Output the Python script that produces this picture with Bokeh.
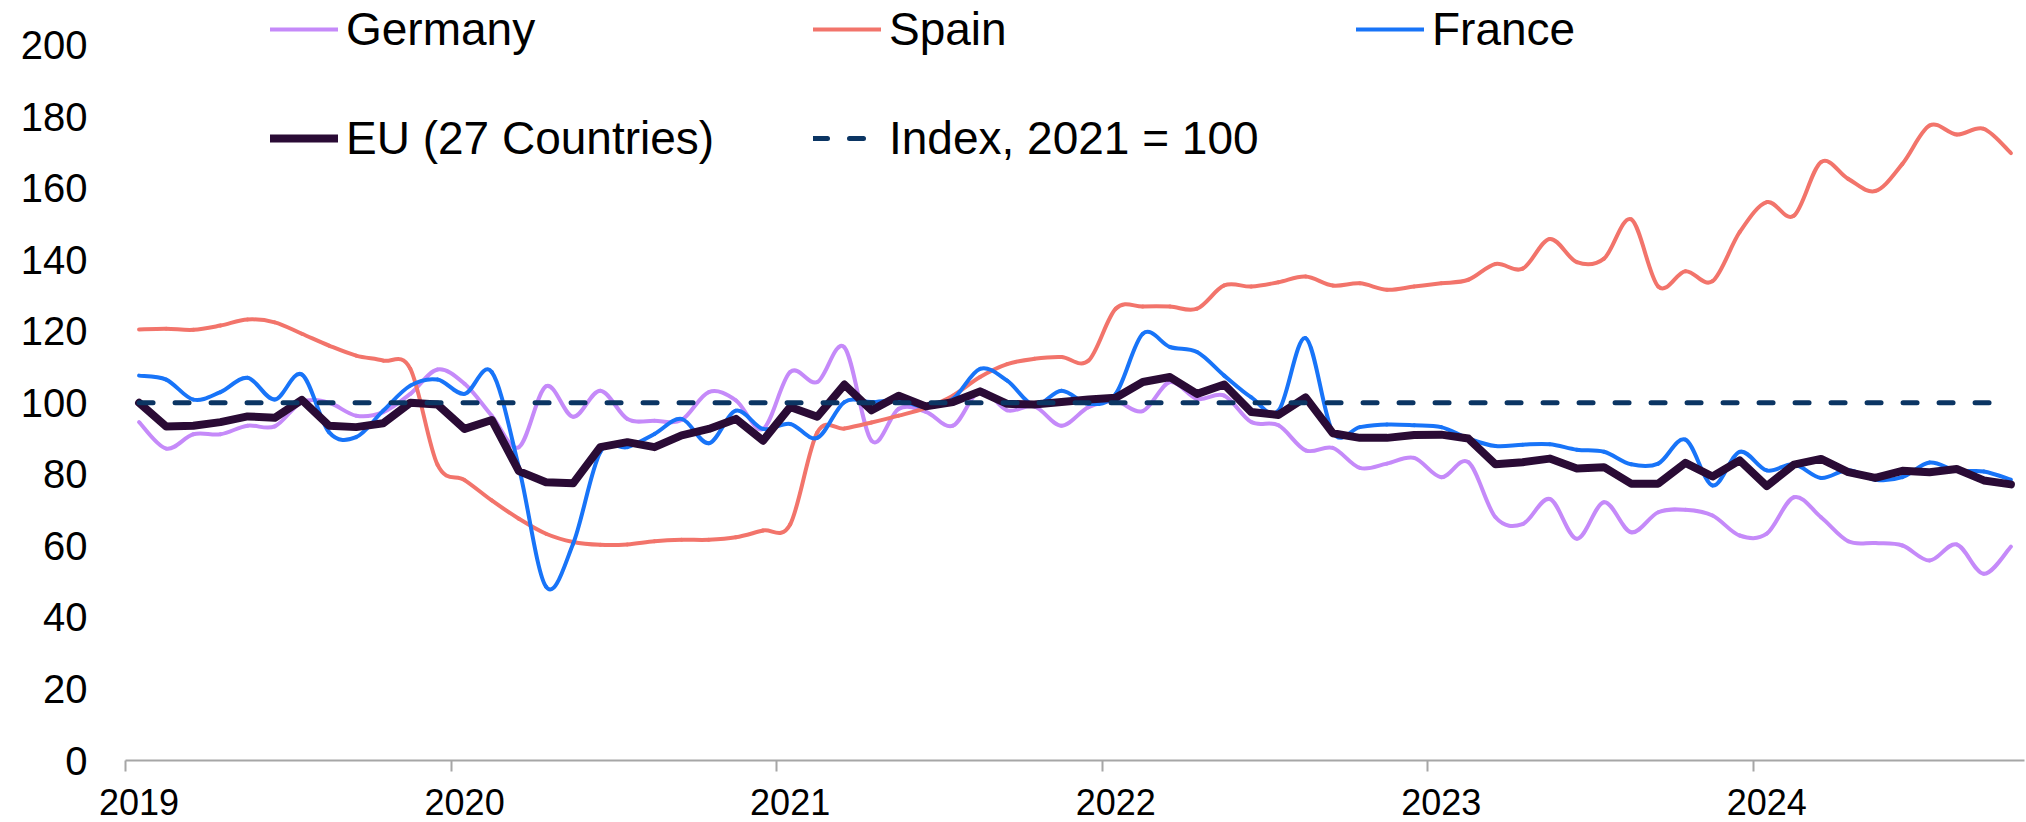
from bokeh.plotting import figure
from bokeh.models import Range1d, FixedTicker, Legend, LegendItem, ColumnDataSource
from bokeh.embed import file_html
from bokeh.resources import INLINE

# ---------------- data ----------------
months = [f"{y}-{m:02d}" for y in range(2019, 2025) for m in range(1, 13)][:70]

germany = [94.6, 87.2, 91.2, 91.2, 93.6, 93.4, 100.2, 100.0, 96.4, 97.4, 102.5, 109.3,
           105.3, 96.4, 87.6, 104.6, 96.1, 103.4, 95.5, 95.0, 95.2, 103.0, 100.7, 92.7,
           108.6, 105.8, 115.5, 89.4, 98.3, 97.5, 93.6, 103.4, 97.9, 99.0, 93.6, 98.8,
           100.4, 97.7, 105.8, 101.1, 102.0, 94.6, 93.7, 86.7, 87.4, 81.8, 83.0, 84.6,
           79.2, 83.4, 68.0, 66.1, 73.1, 62.0, 72.2, 63.8, 69.4, 70.1, 68.5, 62.9,
           63.4, 73.6, 68.0, 61.3, 60.8, 60.1, 55.9, 60.4, 52.2, 59.8]

spain = [120.5, 120.7, 120.4, 121.6, 123.3, 122.5, 119.3, 116.0, 113.2, 111.8, 109.5, 82.7,
         78.4, 72.7, 67.6, 63.4, 61.1, 60.3, 60.4, 61.3, 61.7, 61.7, 62.4, 64.3,
         66.0, 91.7, 92.8, 94.5, 96.4, 98.6, 102.0, 107.2, 110.8, 112.3, 112.8, 111.8,
         126.3, 126.9, 126.9, 126.3, 132.8, 132.5, 133.7, 135.3, 132.8, 133.4, 131.6, 132.5,
         133.4, 134.4, 138.8, 137.5, 145.8, 139.3, 140.3, 151.3, 132.5, 136.8, 134.0, 147.7,
         156.1, 152.3, 167.3, 162.6, 159.2, 166.8, 177.5, 175.0, 176.6, 169.8]

france = [107.6, 106.5, 100.9, 103.0, 107.0, 100.9, 107.9, 91.8, 90.4, 97.8, 104.8, 106.5,
          102.5, 108.6, 82.0, 48.6, 60.6, 86.2, 87.6, 91.3, 95.5, 88.7, 97.8, 92.7,
          94.1, 90.2, 100.2, 100.2, 100.7, 98.8, 101.1, 109.5, 106.2, 99.3, 103.4, 99.7,
          102.5, 119.3, 115.6, 114.2, 107.6, 101.5, 97.8, 118.1, 91.8, 93.2, 93.9, 93.7,
          93.2, 90.0, 87.9, 88.3, 88.4, 86.9, 86.3, 82.8, 83.0, 89.7, 76.9, 86.3,
          81.1, 82.8, 79.0, 81.2, 78.5, 79.2, 83.3, 81.0, 80.8, 78.5]

eu27 = [100.0, 93.4, 93.6, 94.6, 96.2, 95.8, 100.8, 93.6, 93.2, 94.3, 100.0, 99.5,
        92.7, 95.2, 80.9, 77.8, 77.5, 87.6, 89.0, 87.6, 90.9, 92.7, 95.5, 89.4,
        98.8, 96.1, 105.1, 97.9, 102.0, 99.0, 100.2, 103.2, 99.7, 99.5, 100.2, 100.9,
        101.4, 105.8, 107.2, 102.5, 105.1, 97.4, 96.6, 101.5, 91.5, 90.2, 90.2, 91.0,
        91.1, 90.0, 82.8, 83.4, 84.4, 81.6, 82.0, 77.4, 77.4, 83.2, 79.4, 83.9,
        76.7, 82.7, 84.3, 80.6, 79.0, 81.0, 80.6, 81.5, 78.3, 77.2]

index_level = [100.0] * len(months)

year_labels = ["2019", "2020", "2021", "2022", "2023", "2024"]
y_ticks = [0, 20, 40, 60, 80, 100, 120, 140, 160, 180, 200]

# ---------------- styles ----------------
C_GER = "#C58AF9"
C_ESP = "#F2746B"
C_FRA = "#1874F8"
C_EU = "#2A0B35"
C_IDX = "#0B3563"
C_AXIS = "#A6A6A6"
FONT = "Liberation Sans"

# month centres (each point sits in the middle of its month)
x = [months.index(m) + 0.5 for m in months]


def smooth_source(xs, ys):
    """Bezier control points (Catmull-Rom style, like a spreadsheet 'smoothed line')."""
    n = len(xs)
    d = dict(x0=[], y0=[], x1=[], y1=[], cx0=[], cy0=[], cx1=[], cy1=[])
    for i in range(n - 1):
        a = max(i - 1, 0)
        b = min(i + 2, n - 1)
        d["x0"].append(xs[i]); d["y0"].append(ys[i])
        d["x1"].append(xs[i + 1]); d["y1"].append(ys[i + 1])
        d["cx0"].append(xs[i] + (xs[i + 1] - xs[a]) / 6.0)
        d["cy0"].append(ys[i] + (ys[i + 1] - ys[a]) / 6.0)
        d["cx1"].append(xs[i + 1] - (xs[b] - xs[i]) / 6.0)
        d["cy1"].append(ys[i + 1] - (ys[b] - ys[i]) / 6.0)
    return ColumnDataSource(d)


FRAME_H = 760
PX_PER_UNIT = 3.577

p = figure(width=2026, height=822, output_backend="svg", toolbar_location=None,
           x_range=Range1d(0, len(months)), y_range=Range1d(0, FRAME_H / PX_PER_UNIT),
           min_border_left=125, min_border_right=2, min_border_top=0, min_border_bottom=62)
p.outline_line_color = None
p.grid.visible = False
p.background_fill_color = "white"
p.border_fill_color = "white"

# y axis
p.yaxis.ticker = FixedTicker(ticks=y_ticks)
p.yaxis.axis_line_color = None
p.yaxis.major_tick_line_color = None
p.yaxis.minor_tick_line_color = None
p.yaxis.major_tick_out = 0
p.yaxis.major_tick_in = 0
p.yaxis.major_label_standoff = 38
p.yaxis.major_label_text_font = FONT
p.yaxis.major_label_text_font_size = "40px"
p.yaxis.major_label_text_color = "black"

# x axis: tick marks at the start of each year, labels at mid-January
label_pos = [months.index(f"{y}-01") + 0.5 for y in year_labels]
tick_pos = [months.index(f"{y}-01") for y in year_labels]
p.xaxis.ticker = FixedTicker(ticks=label_pos, minor_ticks=tick_pos)
p.xaxis.major_label_overrides = {pos: lab for pos, lab in zip(label_pos, year_labels)}
p.xaxis.axis_line_color = C_AXIS
p.xaxis.axis_line_width = 2
p.xaxis.major_tick_line_color = None
p.xaxis.major_tick_out = 0
p.xaxis.major_tick_in = 0
p.xaxis.minor_tick_line_color = C_AXIS
p.xaxis.minor_tick_line_width = 2
p.xaxis.minor_tick_out = 11
p.xaxis.minor_tick_in = 0
p.xaxis.major_label_standoff = 17
p.xaxis.major_label_text_font = FONT
p.xaxis.major_label_text_font_size = "36px"
p.xaxis.major_label_text_color = "black"

# series
r_ger = p.bezier(x0="x0", y0="y0", x1="x1", y1="y1", cx0="cx0", cy0="cy0", cx1="cx1", cy1="cy1",
                 source=smooth_source(x, germany), line_color=C_GER, line_width=4, line_cap="round")
r_esp = p.bezier(x0="x0", y0="y0", x1="x1", y1="y1", cx0="cx0", cy0="cy0", cx1="cx1", cy1="cy1",
                 source=smooth_source(x, spain), line_color=C_ESP, line_width=4, line_cap="round")
r_fra = p.bezier(x0="x0", y0="y0", x1="x1", y1="y1", cx0="cx0", cy0="cy0", cx1="cx1", cy1="cy1",
                 source=smooth_source(x, france), line_color=C_FRA, line_width=4, line_cap="round")
r_eu = p.line(x, eu27, line_color=C_EU, line_width=8, line_join="round", line_cap="round")
r_idx = p.line(x, index_level, line_color=C_IDX, line_width=5, line_dash="14 22", line_cap="round")


def add_legend(label, renderer, lx, ly):
    leg = Legend(items=[LegendItem(label=label, renderers=[renderer])], location=(lx, ly),
                 orientation="vertical", glyph_width=68, glyph_height=60, label_height=60,
                 label_standoff=8, padding=0, margin=0, spacing=0,
                 border_line_color=None, background_fill_alpha=0,
                 label_text_font=FONT, label_text_font_size="46px", label_text_color="black")
    p.add_layout(leg)


ROW1 = 701
ROW2 = 592
COL1, COL2, COL3 = 145, 688, 1231
add_legend("Germany", r_ger, COL1, ROW1)
add_legend("Spain", r_esp, COL2, ROW1)
add_legend("France", r_fra, COL3, ROW1)
add_legend("EU (27 Countries)", r_eu, COL1, ROW2)
add_legend("Index, 2021 = 100", r_idx, COL2, ROW2)

open("out.html", "w").write(file_html(p, INLINE))
